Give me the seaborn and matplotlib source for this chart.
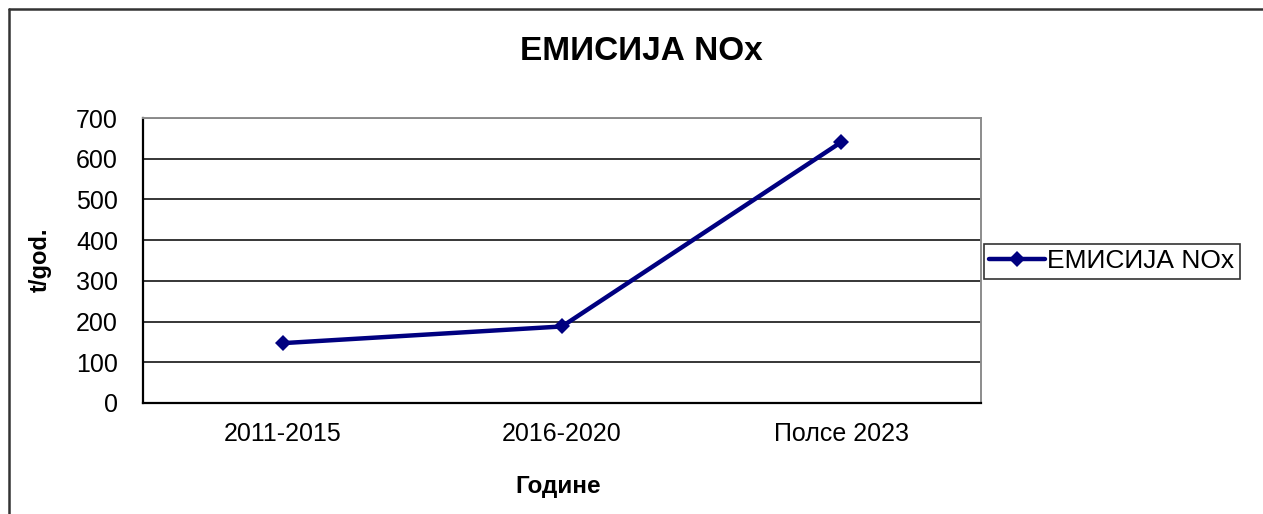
import numpy as np
import pandas as pd
import matplotlib
matplotlib.use("Agg")
import matplotlib.pyplot as plt
import seaborn as sns
from matplotlib.ticker import FixedLocator
from matplotlib.lines import Line2D

# data
periods = ["2011-2015", "2016-2020", "Полсе 2023"]
nox = [147, 188, 641]
series_name = "ЕМИСИЈА NOx"
y_ticks = [0, 100, 200, 300, 400, 500, 600, 700]

sns.set_style("white")
plt.rcParams["font.family"] = ["Liberation Sans", "DejaVu Sans"]
plt.rcParams["text.color"] = "black"
plt.rcParams["xtick.color"] = "black"
plt.rcParams["ytick.color"] = "black"

df = pd.DataFrame({"period": periods, "value": nox})

fig = plt.figure(figsize=(12.63, 5.14), dpi=100)
W, H = 1263, 514
ax = fig.add_axes([143 / W, 1 - 403 / H, (981 - 143) / W, (403 - 118) / H])

sns.lineplot(data=df, x="period", y="value", ax=ax, color="#000080",
             linewidth=3.2, marker="D", markersize=8, markeredgewidth=0,
             label=series_name, sort=False)

ax.set_xlim(-0.5, 2.5)
ax.set_ylim(0, 700)
ax.set_yticks(y_ticks)
ax.yaxis.grid(True, color="black", linewidth=1.1)
ax.xaxis.grid(False)

ax.set_xticks(range(len(periods)))
ax.set_xticklabels(periods)
ax.xaxis.set_minor_locator(FixedLocator([-0.5, 0.5, 1.5, 2.5]))
ax.tick_params(axis="x", which="major", length=0, pad=14, labelsize=18)
ax.tick_params(axis="x", which="minor", direction="in", length=6,
               width=1.2, color="black")
ax.tick_params(axis="y", which="major", direction="out", length=4,
               width=1.2, color="black", pad=14, labelsize=18)
ax.set_xlabel("")
ax.set_ylabel("")

for side in ["left", "bottom"]:
    ax.spines[side].set_color("black")
    ax.spines[side].set_linewidth(1.6)
for side in ["top", "right"]:
    ax.spines[side].set_color("#8c8c8c")
    ax.spines[side].set_linewidth(1.4)
ax.spines["top"].set_visible(True)
ax.spines["right"].set_visible(True)

ax.get_legend().remove()
handle = Line2D([], [], color="#000080", linewidth=3.2, marker="D",
                markersize=8, markeredgewidth=0)
leg = fig.legend([handle], [series_name], loc="center left",
                 bbox_to_anchor=(984 / W, 1 - 261.5 / H), fontsize=19,
                 frameon=True, fancybox=False, edgecolor="black",
                 handlelength=2.1, handletextpad=0.1, borderpad=0.2,
                 borderaxespad=0)
leg.get_frame().set_linewidth(1.2)

fig.text(641 / W, 1 - 51 / H, "ЕМИСИЈА NOx", ha="center", va="center",
         fontsize=24, fontweight="bold")
fig.text(40 / W, 1 - 260 / H, "t/god.", ha="center", va="center",
         rotation=90, fontsize=17, fontweight="bold")
fig.text(558 / W, 1 - 487 / H, "Године", ha="center", va="center",
         fontsize=17.5, fontweight="bold")

# outer chart border (extends past the right and bottom edges)
fig.add_artist(Line2D([9 / W, 9 / W], [0, 1 - 9 / H], transform=fig.transFigure,
                      color="#333333", linewidth=1.8))
fig.add_artist(Line2D([9 / W, 1], [1 - 9 / H, 1 - 9 / H], transform=fig.transFigure,
                      color="#333333", linewidth=1.8))

fig.savefig("out.png", dpi=100)
